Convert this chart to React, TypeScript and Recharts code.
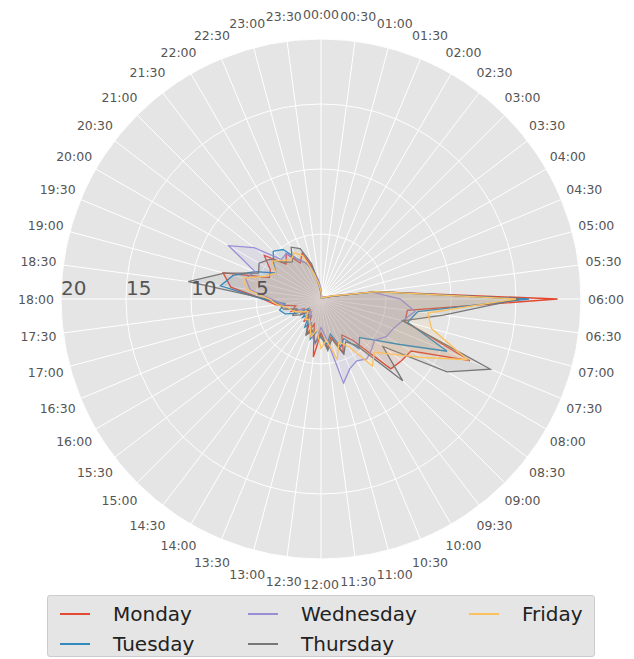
// Weekly activity radar: counts per half hour, one polygon per weekday.
import React from "react";
import {
  RadarChart,
  Radar,
  PolarGrid,
  PolarAngleAxis,
  PolarRadiusAxis,
  Legend,
} from "recharts";

const TIMES = [
  "00:00", "00:30", "01:00", "01:30", "02:00", "02:30", "03:00", "03:30",
  "04:00", "04:30", "05:00", "05:30", "06:00", "06:30", "07:00", "07:30",
  "08:00", "08:30", "09:00", "09:30", "10:00", "10:30", "11:00", "11:30",
  "12:00", "12:30", "13:00", "13:30", "14:00", "14:30", "15:00", "15:30",
  "16:00", "16:30", "17:00", "17:30", "18:00", "18:30", "19:00", "19:30",
  "20:00", "20:30", "21:00", "21:30", "22:00", "22:30", "23:00", "23:30",
];

const MONDAY = [
  0.5, 0.3, 0.2, 0.1, 0.1, 0.1, 0.1, 0.2, 0.3, 0.4, 0.8, 4.3,
  18.2, 6.7, 6.7, 12.4, 8.0, 7.8, 7.6, 4.0, 3.2, 4.5, 3.0, 3.8,
  2.6, 4.5, 2.0, 3.0, 1.5, 2.2, 1.2, 1.8, 1.5, 2.5, 2.0, 3.5,
  4.5, 7.0, 7.8, 4.3, 4.5, 5.5, 3.8, 4.4, 3.2, 3.8, 2.5, 1.2,
];
const TUESDAY = [
  0.6, 0.2, 0.1, 0.1, 0.1, 0.1, 0.1, 0.2, 0.2, 0.3, 0.7, 4.3,
  16.0, 7.5, 6.9, 10.5, 7.0, 5.2, 4.2, 4.8, 3.5, 4.0, 2.8, 3.5,
  3.0, 2.5, 3.2, 2.0, 2.5, 1.5, 2.0, 1.2, 2.2, 3.0, 3.3, 2.8,
  4.5, 7.8, 7.0, 5.5, 4.0, 4.6, 5.2, 4.8, 3.5, 3.0, 2.2, 1.0,
];
const WEDNESDAY = [
  0.8, 0.3, 0.2, 0.1, 0.1, 0.1, 0.2, 0.2, 0.3, 0.4, 1.0, 4.0,
  6.1, 7.3, 6.5, 6.0, 5.8, 5.2, 5.5, 5.8, 5.5, 5.8, 6.7, 3.0,
  2.2, 3.5, 2.8, 2.0, 1.8, 1.2, 1.5, 2.0, 1.6, 2.2, 2.8, 3.0,
  3.8, 5.5, 6.0, 5.5, 8.2, 6.5, 4.3, 4.4, 3.5, 3.0, 2.4, 1.5,
];
const THURSDAY = [
  0.5, 0.2, 0.1, 0.1, 0.1, 0.1, 0.1, 0.1, 0.2, 0.3, 0.8, 4.3,
  15.3, 9.5, 6.5, 14.1, 11.2, 6.0, 8.9, 4.5, 3.8, 4.6, 3.2, 4.0,
  2.8, 3.4, 2.5, 3.0, 2.0, 1.6, 1.4, 2.0, 2.5, 2.0, 3.0, 3.2,
  4.2, 10.3, 7.7, 5.2, 5.5, 5.0, 4.0, 3.6, 4.6, 4.2, 2.8, 1.0,
];
const FRIDAY = [
  0.6, 0.3, 0.1, 0.1, 0.1, 0.1, 0.1, 0.2, 0.2, 0.4, 0.9, 4.3,
  15.0, 8.3, 8.8, 12.2, 9.0, 7.0, 5.8, 6.5, 4.2, 3.6, 4.8, 3.2,
  3.8, 2.4, 3.0, 2.2, 1.8, 2.0, 1.4, 1.6, 2.0, 2.4, 2.6, 3.4,
  4.0, 5.8, 6.2, 4.6, 4.0, 4.8, 4.2, 3.8, 4.1, 3.6, 2.0, 1.1,
];

const RADIUS_TICKS = [0, 5, 10, 15, 20];

const SERIES = [
  { name: "Monday", color: "#E24A33", values: MONDAY },
  { name: "Tuesday", color: "#348ABD", values: TUESDAY },
  { name: "Wednesday", color: "#988ED5", values: WEDNESDAY },
  { name: "Thursday", color: "#777777", values: THURSDAY },
  { name: "Friday", color: "#FBC15E", values: FRIDAY },
];

const data = TIMES.map((time, i) => {
  const row: Record<string, string | number> = { time };
  SERIES.forEach((s) => {
    row[s.name] = s.values[i];
  });
  return row;
});

// geometry (inside the 8px body margin)
const W = 626;
const H = 651;
const CX = 313;
const CY = 291;
const R = 260;
const LABEL_R = 285;
const FONT = "'DejaVu Sans', sans-serif";

function AngleTick(props: any) {
  const { payload } = props;
  const i = TIMES.indexOf(payload.value);
  const a = (i * 7.5 * Math.PI) / 180;
  const x = CX + LABEL_R * Math.sin(a);
  const y = CY - LABEL_R * Math.cos(a);
  return (
    <text
      x={x}
      y={y}
      textAnchor="middle"
      dominantBaseline="central"
      fontFamily={FONT}
      fontSize={12.5}
      fill="#555555"
    >
      {payload.value}
    </text>
  );
}

function RadiusTick(props: any) {
  const { x, y, payload } = props;
  if (payload.value === 0) return <g />;
  return (
    <text x={x} y={y - 4} textAnchor="start" fontFamily={FONT} fontSize={20} fill="#555555">
      {payload.value}
    </text>
  );
}

/* ---- legend: 3 columns, filled column by column ---- */
const LEGEND_COLS = [12, 200, 421];
const LEGEND_TEXT_DX = 53;
const LEGEND_ROWS = [18, 48];

function WeekLegend() {
  return (
    <div
      style={{
        position: "relative",
        width: 548,
        height: 62,
        boxSizing: "border-box",
        background: "#E5E5E5",
        border: "1px solid #cccccc",
        borderRadius: 3,
        fontFamily: FONT,
        fontSize: 20,
        color: "#222",
      }}
    >
      {SERIES.map((s, i) => {
        const col = Math.floor(i / 2);
        const row = i % 2;
        const left = LEGEND_COLS[col];
        const top = LEGEND_ROWS[row];
        return (
          <React.Fragment key={s.name}>
            <div
              style={{
                position: "absolute",
                left: left,
                top: top - 1,
                width: 30,
                height: 1.5,
                background: s.color,
              }}
            />
            <div
              style={{
                position: "absolute",
                left: left + LEGEND_TEXT_DX,
                top: top - 12,
                lineHeight: "24px",
                whiteSpace: "nowrap",
              }}
            >
              {s.name}
            </div>
          </React.Fragment>
        );
      })}
    </div>
  );
}

export default function App() {
  return (
    <div style={{ position: "relative", width: W, height: H, overflow: "hidden" }}>
      <div
        style={{
          position: "absolute",
          left: CX - R,
          top: CY - R,
          width: 2 * R,
          height: 2 * R,
          borderRadius: "50%",
          background: "#E5E5E5",
        }}
      />
      <div style={{ position: "absolute", left: 0, top: 0 }}>
        <RadarChart
          width={W}
          height={H}
          data={data}
          cx={CX}
          cy={CY}
          outerRadius={R}
          startAngle={90}
          endAngle={-270}
          margin={{ top: 0, right: 0, bottom: 0, left: 0 }}
        >
          <PolarGrid gridType="circle" stroke="#ffffff" strokeWidth={1} />
          <PolarAngleAxis dataKey="time" tick={<AngleTick />} tickLine={false} axisLine={false} />
          {SERIES.map((s) => (
            <Radar
              key={s.name}
              name={s.name}
              dataKey={s.name}
              stroke={s.color}
              strokeWidth={1.3}
              fill={s.color}
              fillOpacity={0.1}
              dot={false}
              isAnimationActive={false}
            />
          ))}
          <PolarRadiusAxis
            angle={180}
            domain={[0, 20]}
            ticks={RADIUS_TICKS}
            tick={<RadiusTick />}
            axisLine={false}
            tickLine={false}
          />
          <Legend
            content={<WeekLegend />}
            wrapperStyle={{ position: "absolute", left: 39, top: 587, width: 548, height: 62 }}
          />
        </RadarChart>
      </div>
    </div>
  );
}
